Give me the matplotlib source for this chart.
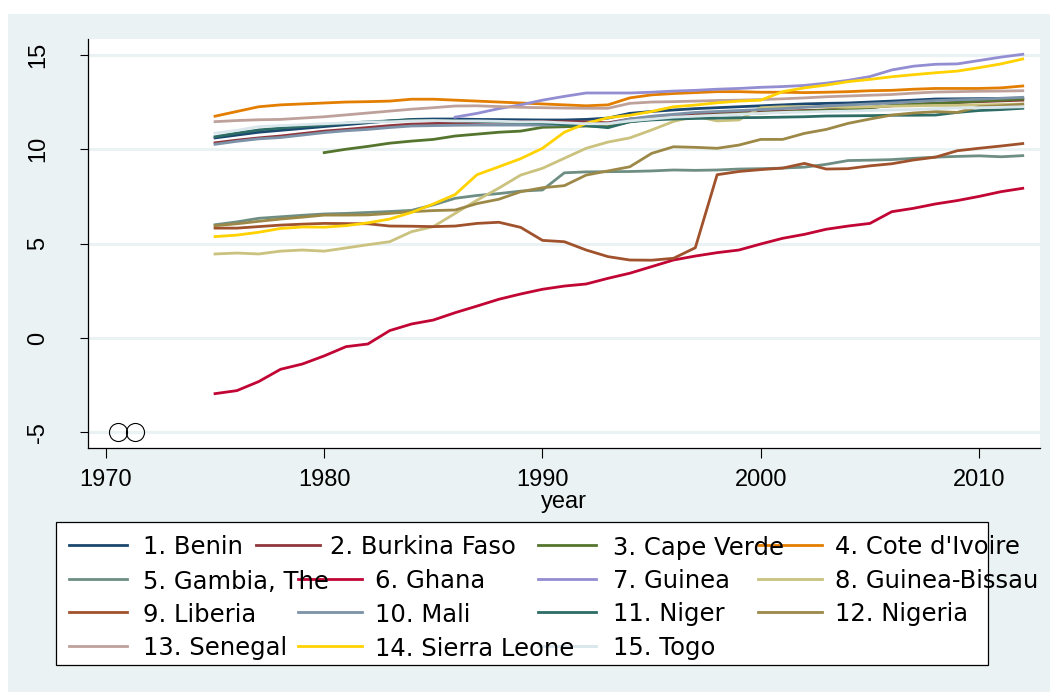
import numpy as np
import matplotlib.pyplot as plt
from matplotlib import font_manager
from matplotlib.patches import Rectangle
from matplotlib.lines import Line2D

years = list(range(1975, 2013))

benin = [10.6, 10.75, 10.9, 11.0, 11.1, 11.2, 11.3, 11.4, 11.5, 11.58, 11.6, 11.6, 11.58, 11.57, 11.56,
         11.55, 11.55, 11.58, 11.65, 11.9, 12.0, 12.08, 12.15, 12.2, 12.25, 12.3, 12.35, 12.4, 12.43,
         12.45, 12.5, 12.55, 12.6, 12.66, 12.67, 12.68, 12.69, 12.7]
burkina = [10.34, 10.48, 10.6, 10.7, 10.83, 10.96, 11.05, 11.15, 11.25, 11.33, 11.36, 11.4, 11.42, 11.44,
           11.45, 11.46, 11.46, 11.45, 11.4, 11.6, 11.7, 11.78, 11.85, 11.9, 11.95, 11.98, 12.02, 12.05,
           12.08, 12.15, 12.22, 12.3, 12.38, 12.43, 12.48, 12.52, 12.56, 12.6]
cape_verde = [np.nan] * 5 + [9.82, 10.0, 10.15, 10.32, 10.43, 10.52, 10.7, 10.8, 10.9, 10.96, 11.16, 11.19,
              11.23, 11.2, 11.45, 11.6, 11.68, 11.75, 11.82, 11.88, 11.92, 11.97, 12.02, 12.07, 12.1,
              12.2, 12.32, 12.38, 12.43, 12.48, 12.55, 12.6, 12.66]
cote_divoire = [11.75, 12.0, 12.25, 12.35, 12.4, 12.45, 12.5, 12.52, 12.55, 12.65, 12.65, 12.6, 12.55, 12.5,
                12.45, 12.4, 12.35, 12.3, 12.35, 12.72, 12.88, 12.95, 13.0, 13.05, 13.05, 13.02, 13.02,
                13.0, 13.02, 13.05, 13.1, 13.12, 13.18, 13.22, 13.22, 13.22, 13.25, 13.35]
gambia = [6.0, 6.15, 6.34, 6.42, 6.5, 6.57, 6.6, 6.65, 6.7, 6.76, 7.05, 7.4, 7.55, 7.65, 7.78, 7.84, 8.75,
          8.8, 8.81, 8.82, 8.85, 8.9, 8.88, 8.9, 8.95, 8.97, 9.0, 9.05, 9.2, 9.4, 9.42, 9.45, 9.52, 9.58,
          9.62, 9.65, 9.6, 9.66]
ghana = [-2.95, -2.79, -2.31, -1.66, -1.38, -0.95, -0.46, -0.32, 0.39, 0.74, 0.95, 1.34, 1.69, 2.05, 2.33,
         2.58, 2.75, 2.86, 3.16, 3.43, 3.78, 4.13, 4.34, 4.52, 4.66, 4.98, 5.28, 5.49, 5.76, 5.93, 6.07,
         6.69, 6.87, 7.1, 7.28, 7.5, 7.75, 7.93]
guinea = [np.nan] * 11 + [11.7, 11.9, 12.15, 12.35, 12.6, 12.8, 12.98, 12.98, 12.98, 13.02, 13.08, 13.12,
          13.18, 13.22, 13.28, 13.32, 13.38, 13.5, 13.65, 13.85, 14.2, 14.4, 14.5, 14.52, 14.7, 14.88, 15.03]
guinea_bissau = [4.45, 4.5, 4.45, 4.6, 4.66, 4.6, 4.77, 4.94, 5.1, 5.63, 5.9, 6.6, 7.3, 7.94, 8.63, 8.99,
                 9.52, 10.05, 10.38, 10.6, 11.02, 11.47, 11.75, 11.5, 11.55, 12.2, 12.25, 12.25, 12.25,
                 12.22, 12.25, 12.28, 12.3, 12.32, 12.32, 12.35, 12.37, 12.4]
liberia = [5.82, 5.82, 5.9, 5.98, 6.03, 6.07, 6.06, 6.05, 5.93, 5.92, 5.9, 5.93, 6.07, 6.13, 5.86, 5.17, 5.1,
           4.66, 4.31, 4.13, 4.12, 4.22, 4.78, 8.65, 8.82, 8.92, 9.0, 9.25, 8.95, 8.97, 9.12, 9.23, 9.43,
           9.58, 9.92, 10.05, 10.17, 10.3]
mali = [10.26, 10.42, 10.55, 10.62, 10.75, 10.88, 10.98, 11.05, 11.15, 11.23, 11.25, 11.27, 11.28, 11.28,
        11.28, 11.28, 11.3, 11.32, 11.35, 11.6, 11.75, 11.85, 11.95, 12.0, 12.05, 12.1, 12.15, 12.22, 12.29,
        12.35, 12.4, 12.45, 12.52, 12.58, 12.62, 12.65, 12.7, 12.75]
niger = [10.66, 10.85, 11.02, 11.12, 11.2, 11.28, 11.38, 11.45, 11.5, 11.55, 11.52, 11.5, 11.47, 11.45,
         11.42, 11.4, 11.3, 11.25, 11.14, 11.46, 11.55, 11.6, 11.63, 11.65, 11.67, 11.68, 11.7, 11.72,
         11.76, 11.77, 11.78, 11.8, 11.8, 11.81, 11.95, 12.05, 12.1, 12.17]
nigeria = [5.95, 6.05, 6.18, 6.3, 6.4, 6.51, 6.51, 6.52, 6.6, 6.69, 6.75, 6.78, 7.12, 7.35, 7.75, 7.96, 8.07,
           8.63, 8.85, 9.07, 9.78, 10.13, 10.1, 10.05, 10.22, 10.52, 10.52, 10.84, 11.05, 11.37, 11.6,
           11.81, 11.92, 11.99, 11.95, 12.25, 12.3, 12.38]
senegal = [11.46, 11.52, 11.56, 11.58, 11.65, 11.72, 11.82, 11.92, 12.02, 12.12, 12.2, 12.29, 12.3, 12.26,
           12.22, 12.2, 12.18, 12.17, 12.17, 12.43, 12.5, 12.52, 12.55, 12.58, 12.6, 12.63, 12.67, 12.72,
           12.78, 12.82, 12.86, 12.9, 12.97, 13.03, 13.05, 13.07, 13.08, 13.1]
sierra_leone = [5.37, 5.45, 5.6, 5.8, 5.88, 5.87, 5.95, 6.1, 6.3, 6.65, 7.1, 7.6, 8.65, 9.07, 9.5, 10.05,
                10.9, 11.37, 11.67, 11.8, 12.0, 12.25, 12.34, 12.46, 12.55, 12.6, 13.05, 13.25, 13.4, 13.58,
                13.7, 13.84, 13.95, 14.05, 14.14, 14.32, 14.52, 14.78]
togo = [10.85, 11.0, 11.2, 11.25, 11.3, 11.35, 11.4, 11.45, 11.45, 11.5, 11.52, 11.5, 11.5, 11.48, 11.45,
        11.45, 11.4, 11.35, 11.35, 11.5, 11.6, 11.7, 11.75, 11.8, 11.85, 11.9, 11.95, 11.97, 12.0, 12.02,
        12.05, 12.08, 12.1, 12.15, 12.18, 12.2, 12.22, 12.25]

# two stray points drawn as hollow circles
stray_years = [1970.55, 1971.33]
stray_vals = [-5, -5]

labels = ['1. Benin', '2. Burkina Faso', '3. Cape Verde', "4. Cote d'Ivoire",
          '5. Gambia, The', '6. Ghana', '7. Guinea', '8. Guinea-Bissau',
          '9. Liberia', '10. Mali', '11. Niger', '12. Nigeria',
          '13. Senegal', '14. Sierra Leone', '15. Togo']
series = [benin, burkina, cape_verde, cote_divoire, gambia, ghana, guinea, guinea_bissau,
          liberia, mali, niger, nigeria, senegal, sierra_leone, togo]
colors = ['#1a476f', '#90353b', '#55752f', '#e37e00', '#6e8e84', '#c10534', '#938dd2', '#cac27e',
          '#a0522d', '#7b92a8', '#2d6d66', '#9c8847', '#bfa19c', '#ffd200', '#d9e6eb']

W, H = 1058, 696
bg = '#eaf2f3'

def fx(px):
    return px / W

def fy(py):
    return 1 - py / H

# narrow face for the axis text if it is there
try:
    font_manager.findfont('Liberation Sans Narrow', fallback_to_default=False)
    tick_font = {'family': 'Liberation Sans Narrow', 'size': 20}
except ValueError:
    tick_font = {'family': 'Liberation Sans', 'size': 17}

fig = plt.figure(figsize=(W / 100, H / 100), dpi=100, facecolor='white')
fig.add_artist(Rectangle((fx(8), fy(692)), fx(1050) - fx(8), fy(14) - fy(692),
                         transform=fig.transFigure, facecolor=bg, edgecolor='none', zorder=0))

ax = fig.add_axes([fx(88), fy(448), fx(1040) - fx(88), fy(39) - fy(448)])
ax.set_facecolor('white')

for s, c in zip(series, colors):
    ax.plot(years, s, color=c, lw=2.0, zorder=3)
ax.plot(stray_years, stray_vals, 'o', ms=13, mfc='none', mec='black', mew=0.8, zorder=4)

ax.set_xlim(1969.18, 2012.79)
ax.set_ylim(-5.83, 15.84)
ax.set_xticks([1970, 1980, 1990, 2000, 2010])
ax.set_yticks([-5, 0, 5, 10, 15])
for v in [-5, 0, 5, 10, 15]:
    ax.axhline(v, color=bg, lw=2.2, zorder=1)

ax.set_xticklabels(['1970', '1980', '1990', '2000', '2010'], fontdict=tick_font)
ax.set_yticklabels(['-5', '0', '5', '10', '15'], fontdict=tick_font, rotation=90, va='center')
ax.tick_params(axis='x', length=7, width=0.8, pad=8, color='black')
ax.tick_params(axis='y', length=6, width=0.8, pad=22, color='black')
ax.set_xlabel('year', fontdict=tick_font, labelpad=0)

for side in ['top', 'right']:
    ax.spines[side].set_visible(False)
for side in ['left', 'bottom']:
    ax.spines[side].set_color('black')
    ax.spines[side].set_linewidth(0.9)

# legend drawn by hand, Stata-like layout
fig.add_artist(Rectangle((fx(56), fy(665)), fx(988) - fx(56), fy(522) - fy(665),
                         transform=fig.transFigure, facecolor='white', edgecolor='black',
                         lw=0.9, zorder=5))
row_y = [545, 579, 612, 646]
col_pos = [(69, 127, 143), (298, 362, 375), (538, 596, 613), (758, 822, 835)]
first_row_pos = [(69, 127, 143), (256, 320, 330), (538, 596, 613), (758, 822, 835)]
for i, (lab, c) in enumerate(zip(labels, colors)):
    r, k = divmod(i, 4)
    h0, h1, tx = (first_row_pos if r == 0 else col_pos)[k]
    y = fy(row_y[r])
    fig.add_artist(Line2D([fx(h0), fx(h1)], [y, y], color=c, lw=2.0,
                          transform=fig.transFigure, zorder=6))
    fig.text(fx(tx), y, lab, fontsize=17.5, family='DejaVu Sans', va='center_baseline',
             ha='left', zorder=7)

fig.savefig('out.png', dpi=100, facecolor='white')
